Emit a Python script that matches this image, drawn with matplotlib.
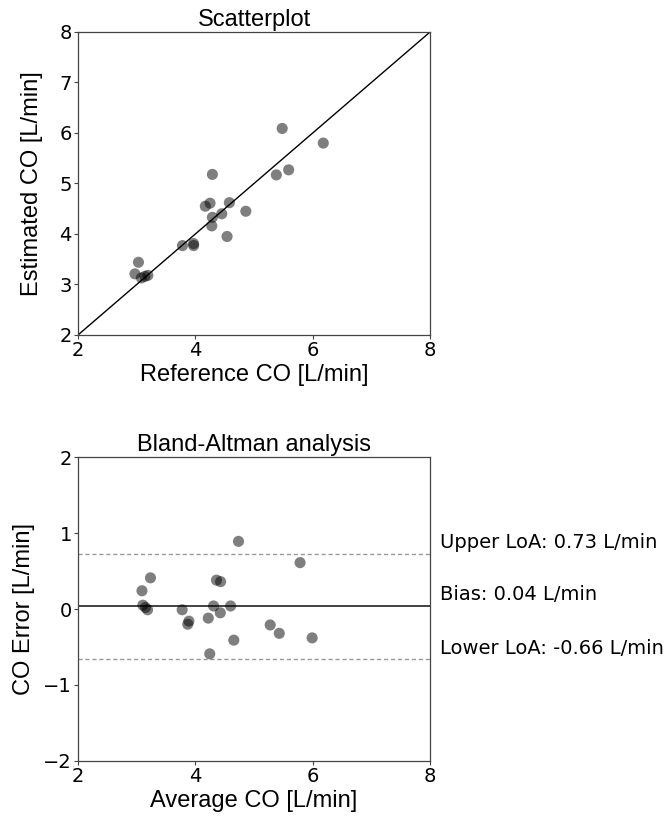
import numpy as np
import matplotlib
matplotlib.use("Agg")
import matplotlib.pyplot as plt
import matplotlib.transforms as mtransforms

# Cardiac output measurements [L/min]
reference_co = [4.29, 5.48, 3.03, 2.97, 4.17, 4.25, 3.08, 3.14, 3.19, 3.78, 3.97,
                3.97, 4.28, 4.29, 4.45, 4.58, 5.38, 5.59, 6.18, 4.86, 4.54]
estimated_co = [5.18, 6.09, 3.44, 3.21, 4.55, 4.61, 3.13, 3.16, 3.18, 3.77, 3.81,
                3.77, 4.16, 4.33, 4.40, 4.62, 5.17, 5.27, 5.80, 4.45, 3.95]

# Bland-Altman summary statistics [L/min]
bias = 0.04
upper_loa = 0.73
lower_loa = -0.66

axis_ticks = [2, 4, 6, 8]
error_ticks = [-2, -1, 0, 1, 2]

ref = np.array(reference_co)
est = np.array(estimated_co)
avg = (ref + est) / 2
err = est - ref

label_font = "Liberation Sans"

fig = plt.figure(figsize=(6.68, 8.18), dpi=100)
ax1 = fig.add_axes([0.1168, 0.5905, 0.527, 0.3704])
ax2 = fig.add_axes([0.1168, 0.0697, 0.527, 0.3716])

for ax in (ax1, ax2):
    for sp in ax.spines.values():
        sp.set_color("#444444")
        sp.set_linewidth(0.9)
    ax.tick_params(length=3, width=0.8, pad=1.5, labelsize=14, color="#444444")
    ax.set_xlim(2, 8)
    ax.set_xticks(axis_ticks)

# Scatter of estimated vs. reference
ax1.plot([2, 8], [2, 8], color="black", lw=1.0, zorder=1)
ax1.scatter(ref, est, s=64, color="black", alpha=0.5, edgecolors="none", zorder=2)
ax1.set_ylim(2, 8)
ax1.set_yticks([2, 3, 4, 5, 6, 7, 8])
ax1.set_title("Scatterplot", fontsize=17, family=label_font, pad=4)
ax1.set_xlabel("Reference CO [L/min]", fontsize=17, family=label_font, labelpad=3)
ax1.set_ylabel("Estimated CO [L/min]", fontsize=17, family=label_font, labelpad=12)

# Bland-Altman plot
ax2.axhline(bias, color="#222222", lw=1.2, zorder=1)
ax2.axhline(upper_loa, color="#999999", lw=1.0, ls=(0, (3, 2)), zorder=1)
ax2.axhline(lower_loa, color="#999999", lw=1.0, ls=(0, (3, 2)), zorder=1)
ax2.scatter(avg, err, s=64, color="black", alpha=0.5, edgecolors="none", zorder=2)
ax2.set_ylim(-2, 2)
ax2.set_yticks(error_ticks)
ax2.set_title("Bland-Altman analysis", fontsize=17, family=label_font, pad=4)
ax2.set_xlabel("Average CO [L/min]", fontsize=17, family=label_font, labelpad=3)
ax2.set_ylabel("CO Error [L/min]", fontsize=17, family=label_font, labelpad=6)

trans = mtransforms.blended_transform_factory(ax2.transAxes, ax2.transData)
for name, val in (("Upper LoA", upper_loa), ("Bias", bias), ("Lower LoA", lower_loa)):
    ax2.annotate(f"{name}: {val:.2f} L/min", xy=(1, val), xycoords=trans,
                 xytext=(7, 4), textcoords="offset points",
                 ha="left", va="baseline", fontsize=14,
                 annotation_clip=False)

fig.savefig("out.png", dpi=100)
